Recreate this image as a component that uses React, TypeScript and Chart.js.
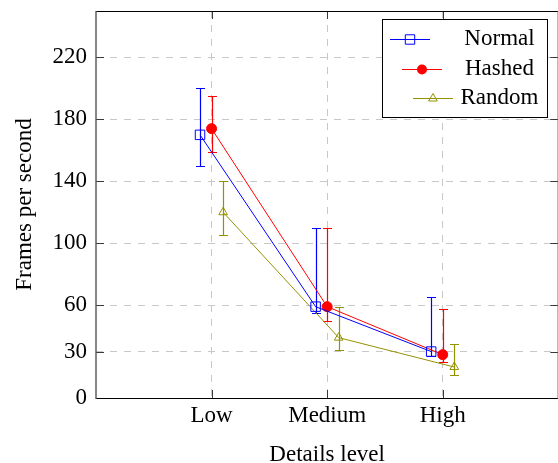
import { useEffect, useRef } from 'react';
import { Chart, registerables } from 'chart.js';

Chart.register(...registerables);

const categories = ['Low', 'Medium', 'High'];
const yTickValues = [0, 30, 60, 100, 140, 180, 220];
const seriesNames = ['Normal', 'Hashed', 'Random'];

const normalFps = [170, 59, 30];
const normalUpper = [200, 110, 65];
const normalLower = [150, 55, 27];

const hashedFps = [174, 59, 28];
const hashedUpper = [195, 110, 57.5];
const hashedLower = [159, 50, 23];

const randomFps = [120, 39, 20];
const randomUpper = [140, 59, 35];
const randomLower = [105, 31, 15];

const FONT = "'Liberation Serif', 'Times New Roman', serif";
const BLUE = '#0000ff';
const RED = '#ff0000';
const OLIVE = '#959200';

const errorBarPlugin = {
  id: 'errorBars',
  beforeDatasetsDraw(chart: any) {
    const { ctx } = chart;
    const xs = chart.scales.x;
    const ys = chart.scales.y;
    chart.data.datasets.forEach((ds: any) => {
      ctx.save();
      ctx.strokeStyle = ds.borderColor;
      ctx.lineWidth = 1.2;
      ds.data.forEach((p: any, i: number) => {
        const px = Math.round(xs.getPixelForValue(p.x)) + 0.5;
        const top = Math.round(ys.getPixelForValue(ds.errUpper[i])) + 0.5;
        const bot = Math.round(ys.getPixelForValue(ds.errLower[i])) + 0.5;
        ctx.beginPath();
        ctx.moveTo(px, top);
        ctx.lineTo(px, bot);
        ctx.moveTo(px - 4.5, top);
        ctx.lineTo(px + 4.5, top);
        ctx.moveTo(px - 4.5, bot);
        ctx.lineTo(px + 4.5, bot);
        ctx.stroke();
      });
      ctx.restore();
    });
  },
};

function drawMarker(ctx: CanvasRenderingContext2D, style: string, x: number, y: number, color: string) {
  ctx.save();
  ctx.strokeStyle = color;
  ctx.fillStyle = color;
  ctx.lineWidth = 1;
  ctx.beginPath();
  if (style === 'rect') {
    const s = 4.7;
    ctx.rect(x - s, y - s, 2 * s, 2 * s);
    ctx.stroke();
  } else if (style === 'circle') {
    ctx.arc(x, y, 5, 0, Math.PI * 2);
    ctx.fill();
  } else {
    const r = 5;
    ctx.moveTo(x, y - r);
    ctx.lineTo(x + r * Math.sin((2 * Math.PI) / 3), y - r * Math.cos((2 * Math.PI) / 3));
    ctx.lineTo(x + r * Math.sin((4 * Math.PI) / 3), y - r * Math.cos((4 * Math.PI) / 3));
    ctx.closePath();
    ctx.stroke();
  }
  ctx.restore();
}

const frameLegendPlugin = {
  id: 'frameLegend',
  afterDraw(chart: any) {
    const { ctx, chartArea } = chart;
    const { left, right, top, bottom } = chartArea;
    const xs = chart.scales.x;
    const ys = chart.scales.y;
    ctx.save();
    // inward tick marks
    ctx.strokeStyle = '#3a3a3a';
    ctx.lineWidth = 1;
    ctx.beginPath();
    ys.ticks.forEach((t: any) => {
      const py = Math.round(ys.getPixelForValue(t.value)) + 0.5;
      ctx.moveTo(left, py);
      ctx.lineTo(left + 8, py);
      ctx.moveTo(right - 8, py);
      ctx.lineTo(right, py);
    });
    xs.ticks.forEach((t: any) => {
      const px = Math.round(xs.getPixelForValue(t.value)) + 0.5;
      ctx.moveTo(px, bottom);
      ctx.lineTo(px, bottom - 8);
      ctx.moveTo(px, top);
      ctx.lineTo(px, top + 8);
    });
    ctx.stroke();
    // frame
    ctx.strokeStyle = '#000';
    ctx.beginPath();
    ctx.moveTo(left, top + 0.5);
    ctx.lineTo(right, top + 0.5);
    ctx.moveTo(left, bottom + 0.5);
    ctx.lineTo(right, bottom + 0.5);
    ctx.stroke();
    ctx.strokeStyle = '#555';
    ctx.lineWidth = 1.4;
    ctx.beginPath();
    ctx.moveTo(left, top);
    ctx.lineTo(left, bottom + 1);
    ctx.moveTo(right, top);
    ctx.lineTo(right, bottom + 1);
    ctx.stroke();

    // legend box
    const bx = 382;
    const by = 19;
    const bw = 165;
    const bh = 98;
    ctx.fillStyle = '#fff';
    ctx.fillRect(bx, by, bw, bh);
    ctx.strokeStyle = '#000';
    ctx.lineWidth = 1;
    ctx.strokeRect(bx + 0.5, by + 0.5, bw, bh);
    const rowY = [39, 69, 98];
    const sampleCx = [410, 422, 433];
    ctx.font = `23px ${FONT}`;
    ctx.textAlign = 'center';
    ctx.textBaseline = 'alphabetic';
    chart.data.datasets.forEach((ds: any, i: number) => {
      const yy = rowY[i] + 0.5;
      ctx.strokeStyle = ds.borderColor;
      ctx.lineWidth = 1;
      ctx.beginPath();
      ctx.moveTo(sampleCx[i] - 20, yy);
      ctx.lineTo(sampleCx[i] + 20, yy);
      ctx.stroke();
      drawMarker(ctx, ds.pointStyle, sampleCx[i], yy, ds.borderColor);
      ctx.fillStyle = '#000';
      ctx.fillText(ds.label, 499.5, rowY[i] + 6);
    });
    ctx.restore();
  },
};

export default function App() {
  const canvasRef = useRef<HTMLCanvasElement | null>(null);

  useEffect(() => {
    if (!canvasRef.current) return;
    const mk = (vals: number[], off: number) => vals.map((v, i) => ({ x: i + off, y: v }));
    const chart = new Chart(canvasRef.current, {
      type: 'line',
      data: {
        datasets: [
          {
            label: seriesNames[0],
            data: mk(normalFps, -0.1),
            errUpper: normalUpper,
            errLower: normalLower,
            borderColor: BLUE,
            backgroundColor: BLUE,
            borderWidth: 1,
            pointStyle: 'rect',
            pointRadius: 6.7,
            pointBorderWidth: 1,
            pointBackgroundColor: 'rgba(0,0,0,0)',
            pointBorderColor: BLUE,
            fill: false,
            tension: 0,
          } as any,
          {
            label: seriesNames[1],
            data: mk(hashedFps, 0),
            errUpper: hashedUpper,
            errLower: hashedLower,
            borderColor: RED,
            backgroundColor: RED,
            borderWidth: 1,
            pointStyle: 'circle',
            pointRadius: 5,
            pointBorderWidth: 1,
            pointBackgroundColor: RED,
            pointBorderColor: RED,
            fill: false,
            tension: 0,
          } as any,
          {
            label: seriesNames[2],
            data: mk(randomFps, 0.1),
            errUpper: randomUpper,
            errLower: randomLower,
            borderColor: OLIVE,
            backgroundColor: OLIVE,
            borderWidth: 1,
            pointStyle: 'triangle',
            pointRadius: 5,
            pointBorderWidth: 1,
            pointBackgroundColor: 'rgba(0,0,0,0)',
            pointBorderColor: OLIVE,
            fill: false,
            tension: 0,
          } as any,
        ],
      },
      options: {
        animation: false,
        responsive: true,
        maintainAspectRatio: false,
        events: [],
        layout: { padding: { top: 11, right: 4, left: 0, bottom: 0 } },
        plugins: { legend: { display: false }, tooltip: { enabled: false } },
        scales: {
          x: {
            type: 'linear',
            min: -1,
            max: 3,
            afterBuildTicks: (s: any) => {
              s.ticks = categories.map((_, i) => ({ value: i }));
            },
            afterFit: (s: any) => {
              s.height = 74;
              s.paddingLeft = 0;
              s.paddingRight = 0;
            },
            grid: { color: '#c8c8c8', lineWidth: 1, drawTicks: false },
            border: { display: false, dash: [7, 7] },
            ticks: {
              padding: 4,
              maxRotation: 0,
              autoSkip: false,
              color: '#000',
              font: { family: FONT, size: 23 },
              callback: (v: any) => categories[v as number] ?? '',
            },
            title: {
              display: true,
              text: 'Details level',
              color: '#000',
              font: { family: FONT, size: 23 },
              padding: { top: 0, bottom: 3 },
            },
          },
          y: {
            type: 'linear',
            min: 0,
            max: 250,
            afterBuildTicks: (s: any) => {
              s.ticks = yTickValues.map((v) => ({ value: v }));
            },
            afterFit: (s: any) => {
              s.width = 96;
              s.paddingTop = 0;
              s.paddingBottom = 0;
            },
            grid: { color: '#c8c8c8', lineWidth: 1, drawTicks: false },
            border: { display: false, dash: [7, 7] },
            ticks: {
              padding: 9,
              autoSkip: false,
              color: '#000',
              font: { family: FONT, size: 23 },
              callback: (v: any) => String(v),
            },
            title: {
              display: true,
              text: 'Frames per second',
              color: '#000',
              font: { family: FONT, size: 23 },
              padding: { top: 11, bottom: 0 },
            },
          },
        },
      } as any,
      plugins: [errorBarPlugin, frameLegendPlugin],
    });
    return () => chart.destroy();
  }, []);

  return (
    <div style={{ position: 'absolute', left: 0, top: 0, width: 558, height: 463, overflow: 'hidden', background: '#fff' }}>
      <div style={{ position: 'relative', width: 566, height: 472 }}>
        <canvas ref={canvasRef} />
      </div>
    </div>
  );
}
